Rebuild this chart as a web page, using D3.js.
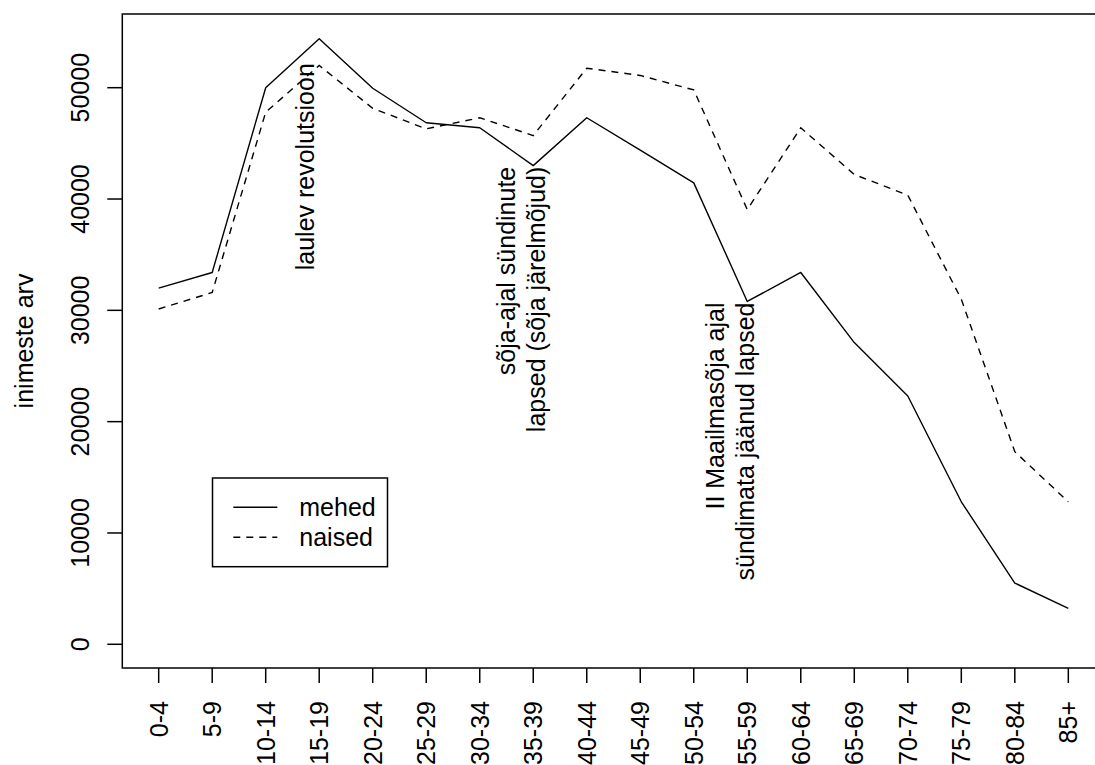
<!DOCTYPE html>
<html>
<head>
<meta charset="utf-8">
<script src="https://cdn.jsdelivr.net/npm/d3@7"></script>
<style>
  html, body { margin: 0; padding: 0; background: #fff; }
  svg { display: block; font-family: "Liberation Sans", Arial, Helvetica, sans-serif; }
</style>
</head>
<body>
<div id="chart"></div>
<script>
// age groups and population counts
const ageGroups = ["0-4", "5-9", "10-14", "15-19", "20-24", "25-29", "30-34", "35-39", "40-44",
    "45-49", "50-54", "55-59", "60-64", "65-69", "70-74", "75-79", "80-84", "85+"];
const mehed = [32000, 33400, 50000, 54400, 49950, 46850, 46400, 43000, 47300,
    44400, 41450, 30800, 33400, 27100, 22300, 12800, 5500, 3230];
const naised = [30120, 31600, 47800, 52000, 48150, 46300, 47300, 45700, 51750,
    51100, 49800, 39050, 46400, 42200, 40350, 31000, 17300, 12800];
const yTicks = [0, 10000, 20000, 30000, 40000, 50000];
const yLabel = "inimeste arv";
const seriesNames = ["mehed", "naised"];
const notes = [
    { at: 2.73, value: 52200, lines: ["laulev revolutsioon"] },
    { at: 6.77, value: 42900, lines: ["sõja-ajal sündinute", "lapsed (sõja järelmõjud)"] },
    { at: 10.68, value: 30700, lines: ["II Maailmasõja ajal", "sündimata jäänud lapsed"] }
];

const W = 1095, H = 765;
const FONT = 25;
const LINE = 30;   // one margin line
const box = { left: 122.3, right: 1104.7, top: 14, bottom: 668 };

const svg = d3.select("#chart").append("svg")
    .attr("width", W)
    .attr("height", H);

// R-style 4% padding around data range
const x = d3.scaleLinear()
    .domain([-0.68, ageGroups.length - 1 + 0.68])
    .range([box.left, box.right]);

const y = d3.scaleLinear()
    .domain([-2130, 56620])
    .range([box.bottom, box.top]);

const line = d3.line()
    .x((d, i) => x(i))
    .y(d => y(d));

svg.append("path")
    .attr("fill", "none")
    .attr("stroke", "#000")
    .attr("stroke-width", 1.4)
    .attr("stroke-linejoin", "round")
    .attr("d", line(mehed));

svg.append("path")
    .attr("fill", "none")
    .attr("stroke", "#000")
    .attr("stroke-width", 1.4)
    .attr("stroke-dasharray", "7,6")
    .attr("d", line(naised));

// plot frame
svg.append("rect")
    .attr("x", box.left)
    .attr("y", box.top)
    .attr("width", box.right - box.left)
    .attr("height", box.bottom - box.top)
    .attr("fill", "none")
    .attr("stroke", "#000")
    .attr("stroke-width", 1.5);

// x axis
const gx = svg.append("g");
gx.selectAll("line")
    .data(ageGroups)
    .join("line")
    .attr("x1", (d, i) => x(i))
    .attr("x2", (d, i) => x(i))
    .attr("y1", box.bottom)
    .attr("y2", box.bottom + LINE / 2)
    .attr("stroke", "#000")
    .attr("stroke-width", 1.5);
gx.selectAll("text")
    .data(ageGroups)
    .join("text")
    .attr("transform", (d, i) => `translate(${x(i)},${box.bottom + LINE + 3}) rotate(-90)`)
    .attr("text-anchor", "end")
    .attr("dominant-baseline", "central")
    .attr("font-size", FONT)
    .text(d => d);

// y axis
const gy = svg.append("g");
gy.selectAll("line")
    .data(yTicks)
    .join("line")
    .attr("x1", box.left - LINE / 2)
    .attr("x2", box.left)
    .attr("y1", d => y(d))
    .attr("y2", d => y(d))
    .attr("stroke", "#000")
    .attr("stroke-width", 1.5);
gy.selectAll("text")
    .data(yTicks)
    .join("text")
    .attr("transform", d => `translate(${box.left - LINE - 3},${y(d)}) rotate(-90)`)
    .attr("text-anchor", "middle")
    .attr("font-size", FONT)
    .text(d => d);

svg.append("text")
    .attr("transform", `translate(${box.left - 3 * LINE + 1},${(box.top + box.bottom) / 2}) rotate(-90)`)
    .attr("text-anchor", "middle")
    .attr("font-size", FONT)
    .text(yLabel);

// annotations, right-aligned at the anchor (top end), lines stacked rightwards
notes.forEach(n => {
    const t = svg.append("text")
        .attr("transform", `translate(${x(n.at)},${y(n.value)}) rotate(-90)`)
        .attr("text-anchor", "end")
        .attr("dominant-baseline", "central")
        .attr("font-size", FONT);
    const lh = FONT * 1.2;
    const off0 = -(n.lines.length - 1) * lh / 2;
    n.lines.forEach((s, k) => {
        t.append("tspan")
            .attr("x", 0)
            .attr("y", off0 + k * lh)
            .text(s);
    });
});

// legend
const lg = { left: 212.5, right: 387.5, top: 478, bottom: 566.7 };
svg.append("rect")
    .attr("x", lg.left)
    .attr("y", lg.top)
    .attr("width", lg.right - lg.left)
    .attr("height", lg.bottom - lg.top)
    .attr("fill", "#fff")
    .attr("stroke", "#000")
    .attr("stroke-width", 1.5);
const legRow = d3.scaleLinear().domain([0, 1]).range([507.3, 537.3]);
seriesNames.forEach((name, i) => {
    svg.append("line")
        .attr("x1", 233.3)
        .attr("x2", 277.3)
        .attr("y1", legRow(i))
        .attr("y2", legRow(i))
        .attr("stroke", "#000")
        .attr("stroke-width", 1.4)
        .attr("stroke-dasharray", i === 1 ? "7,6" : null);
    svg.append("text")
        .attr("x", 299.3)
        .attr("y", legRow(i))
        .attr("dominant-baseline", "central")
        .attr("font-size", FONT)
        .text(name);
});
</script>
</body>
</html>
